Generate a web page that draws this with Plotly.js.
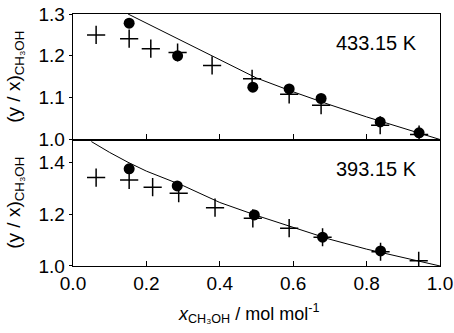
<!DOCTYPE html>
<html>
<head>
<meta charset="utf-8">
<script src="https://cdn.plot.ly/plotly-3.0.1.min.js"></script>
<style>
  html, body { margin: 0; padding: 0; background: #fff; }
  #chart { width: 454px; height: 333px; }
</style>
</head>
<body>
<div id="chart"></div>
<script>
// 433.15 K panel (top)
const hotCircleX = [0.153, 0.285, 0.490, 0.589, 0.676, 0.837, 0.943];
const hotCircleY = [1.278, 1.200, 1.125, 1.121, 1.098, 1.042, 1.016];
const hotCrossX  = [0.063, 0.153, 0.212, 0.285, 0.379, 0.488, 0.589, 0.676, 0.837, 0.943];
const hotCrossY  = [1.250, 1.241, 1.217, 1.208, 1.177, 1.145, 1.108, 1.082, 1.034, 1.012];
const hotCurveX  = [0.15, 0.2, 0.3, 0.4, 0.5, 0.6, 0.7, 0.8, 0.9, 1.0];
const hotCurveY  = [1.300, 1.278, 1.234, 1.190, 1.147, 1.114, 1.083, 1.054, 1.027, 1.000];

// 393.15 K panel (bottom)
const coldCircleX = [0.153, 0.284, 0.494, 0.680, 0.838];
const coldCircleY = [1.375, 1.309, 1.197, 1.111, 1.058];
const coldCrossX  = [0.063, 0.153, 0.217, 0.288, 0.387, 0.490, 0.589, 0.680, 0.838, 0.942];
const coldCrossY  = [1.341, 1.332, 1.304, 1.281, 1.225, 1.184, 1.146, 1.111, 1.055, 1.020];
const coldCurveX  = [0.05, 0.1, 0.15, 0.2, 0.3, 0.4, 0.5, 0.6, 0.7, 0.8, 0.9, 1.0];
const coldCurveY  = [1.480, 1.438, 1.400, 1.366, 1.310, 1.245, 1.195, 1.148, 1.103, 1.065, 1.032, 1.000];

const panelLabels = ['433.15 K', '393.15 K'];
const xTicks = [0, 0.2, 0.4, 0.6, 0.8, 1.0];

const FONT = 'Liberation Sans, Arial, sans-serif';
const circle = { symbol: 'circle', size: 11, color: '#000' };
const cross = { symbol: 'cross-thin-open', size: 13, color: '#000', line: { color: '#000', width: 1.5 } };
const curve = { color: '#000', width: 1 };

function panel(xs, ys, cx, cy, kx, ky, xa, ya) {
    return [
        { x: kx, y: ky, xaxis: xa, yaxis: ya, mode: 'lines', type: 'scatter', line: curve, hoverinfo: 'skip' },
        { x: xs, y: ys, xaxis: xa, yaxis: ya, mode: 'markers', type: 'scatter', marker: circle },
        { x: cx, y: cy, xaxis: xa, yaxis: ya, mode: 'markers', type: 'scatter', marker: cross },
    ];
}

const traces = [
    ...panel(hotCircleX, hotCircleY, hotCrossX, hotCrossY, hotCurveX, hotCurveY, 'x2', 'y2'),
    ...panel(coldCircleX, coldCircleY, coldCrossX, coldCrossY, coldCurveX, coldCurveY, 'x', 'y'),
];

const yTitle = '(y / x)<sub>CH₃OH</sub>';
const axisBase = {
    showgrid: false, zeroline: false, showline: true,
    linecolor: '#000', linewidth: 1.3, tickcolor: '#000',
    tickfont: { family: FONT, size: 19, color: '#000' },
};

const layout = {
    width: 454, height: 333,
    paper_bgcolor: '#fff', plot_bgcolor: '#fff',
    font: { family: FONT, color: '#000', size: 19 },
    showlegend: false,
    margin: { l: 73, r: 14, t: 14, b: 67 },
    xaxis: {
        ...axisBase, anchor: 'y', mirror: false, range: [0, 1], tickvals: xTicks, tickformat: '.1f',
        ticks: 'inside', ticklen: 5,
    },
    xaxis2: {
        ...axisBase, anchor: 'y2', mirror: true, matches: 'x', range: [0, 1], tickvals: xTicks,
        ticks: 'inside', ticklen: 5, showticklabels: false,
    },
    yaxis: {
        ...axisBase, anchor: 'x', mirror: true, domain: [0, 0.502], range: [1.0, 1.488], dtick: 0.2, tickformat: '.1f',
        ticks: 'outside', ticklen: 3,
        title: { text: yTitle, font: { family: FONT, size: 19 }, standoff: 12 },
    },
    yaxis2: {
        ...axisBase, anchor: 'x2', mirror: true, domain: [0.502, 1], range: [1.0, 1.3], dtick: 0.1, tickformat: '.1f',
        ticks: 'outside', ticklen: 3,
        title: { text: yTitle, font: { family: FONT, size: 19 }, standoff: 12 },
    },
    annotations: [
        { text: panelLabels[0], xref: 'x2', yref: 'y2', x: 0.828, y: 1.23, showarrow: false, font: { family: FONT, size: 20 } },
        { text: panelLabels[1], xref: 'x', yref: 'y', x: 0.828, y: 1.373, showarrow: false, font: { family: FONT, size: 20 } },
        // x-axis title, placed a little left of centre as in the source figure
        { text: '<i>x</i><sub>CH₃OH</sub> / mol mol<sup>-1</sup>', xref: 'paper', yref: 'paper',
          x: 0.477, y: -0.19, yanchor: 'middle', showarrow: false, font: { family: FONT, size: 18 } },
    ],
};

Plotly.newPlot('chart', traces, layout, { displayModeBar: false, staticPlot: true });
</script>
</body>
</html>
